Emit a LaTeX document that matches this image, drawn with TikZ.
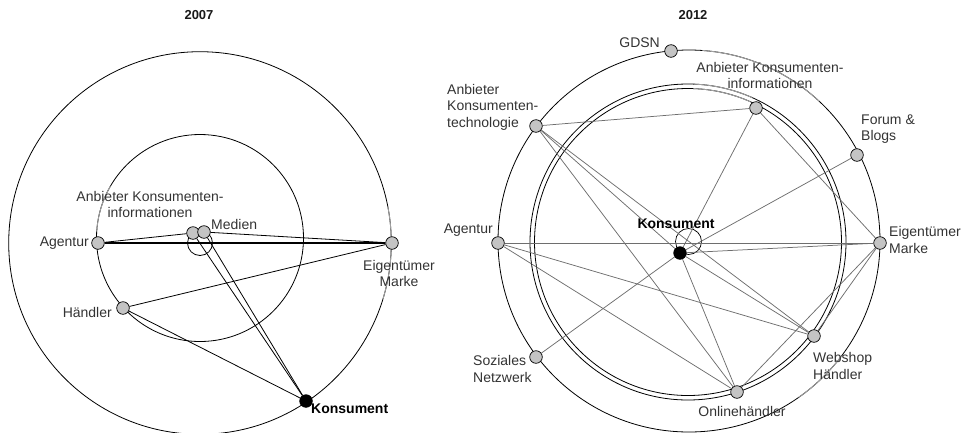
\documentclass[tikz,border=0pt]{standalone}
\usepackage{fontspec}
\setmainfont{Liberation Sans}
\definecolor{nodegray}{HTML}{C4C4C4}
\definecolor{edgegray}{HTML}{6E6E6E}
\definecolor{txt}{HTML}{333333}
\definecolor{faint}{HTML}{A0A0A0}
\begin{document}
\begin{tikzpicture}[x=1pt,y=-1pt,
  ring/.style={draw=black, line width=0.8pt},
  faintarc/.style={draw=faint, line width=0.9pt},
  nd/.style={circle, draw=black, fill=nodegray, line width=0.7pt, minimum size=12.6pt, inner sep=0pt},
  ndk/.style={nd, fill=black},
  edgeA/.style={draw=black, line width=0.8pt},
  edgeB/.style={draw=edgegray, line width=0.75pt},
  lbl/.style={font=\fontsize{14}{16.5}\selectfont, text=txt, inner sep=0pt},
  lblb/.style={font=\fontsize{14}{16.5}\selectfont\bfseries, text=black, inner sep=0pt},
  ttl/.style={font=\fontsize{13}{15}\selectfont\bfseries, text=black!90, inner sep=0pt}
]
\useasboundingbox (0,0) rectangle (965,432);

% ---------- titles ----------
\node[ttl] (t1) at (199,15) {2007};
\node[ttl] (t2) at (693,15) {2012};

% ---------- left panel rings ----------
\draw[ring] (200,243) circle[radius=191.3];
\draw[ring] (200,238) circle[radius=103.5];
\draw[faintarc] (200,243) ++(17:191.3) arc[start angle=17, end angle=-11, radius=191.3];
\draw[faintarc] (200,238) ++(-150:103.5) arc[start angle=-150, end angle=-176, radius=103.5];

% self loop left
\coordinate (L1) at (200,243);
\draw[edgeA] (L1) circle[radius=12.5];

% ---------- left panel nodes ----------
\node[nd] (AG1) at (98,243) {};
\node[nd] (AK1) at (193,233) {};
\node[nd] (ME1) at (204,232) {};
\node[nd] (EM1) at (392,243) {};
\node[nd] (HA1) at (123,308) {};
\node[ndk] (KO1) at (306,401) {};

% ---------- left panel edges ----------
\draw[edgeA, line width=1.8pt] (AG1) -- (EM1);
\draw[edgeA] (AG1) -- (AK1);
\draw[edgeA] (ME1) -- (EM1);
\draw[edgeA] (HA1) -- (EM1);
\draw[edgeA] (HA1) -- (KO1);
\draw[edgeA] (AK1) -- (KO1);
\draw[edgeA] (ME1) -- (KO1);

% ---------- left panel labels ----------
\node[lbl, anchor=east] (lAG1) at (89,243) {Agentur};
\node[lbl, align=center] (lAK1) at (150,204.5) {Anbieter Konsumenten-\\informationen};
\node[lbl, anchor=west] (lME1) at (211,224) {Medien};
\node[lbl, align=center] (lEM1) at (399,273.5) {Eigentümer\\Marke};
\node[lbl, anchor=east] (lHA1) at (112,312) {Händler};
\node[lblb, anchor=west] (lKO1) at (311,409) {Konsument};

% ---------- right panel rings ----------
\draw[ring] (689,241) circle[radius=191];
\draw[ring] (688,242) circle[radius=158];
\draw[ring] (688,242) circle[radius=153.5];
\draw[faintarc] (689,241) ++(-47:191) arc[start angle=-47, end angle=-86, radius=191];
\draw[faintarc] (689,241) ++(55:191) arc[start angle=55, end angle=37, radius=191];
\draw[faintarc] (688,242) ++(-66:158) arc[start angle=-66, end angle=-88, radius=158];
\draw[faintarc] (688,242) ++(-66:153.5) arc[start angle=-66, end angle=-88, radius=153.5];

% self loop right
\coordinate (L2) at (688.5,241.5);
\draw[draw=black, line width=0.7pt] (L2) circle[radius=13];

% ---------- right panel nodes ----------
\node[nd] (GD2) at (671,51) {};
\node[nd] (AKI2) at (756,108) {};
\node[nd] (AKT2) at (536,126) {};
\node[nd] (FB2) at (857,155) {};
\node[nd] (AG2) at (498,243) {};
\node[nd] (EM2) at (880,243) {};
\node[nd] (SN2) at (536,357) {};
\node[nd] (WH2) at (814,336) {};
\node[nd] (OH2) at (737,392) {};
\node[ndk] (KO2) at (680,253) {};

% ---------- right panel edges ----------
\draw[edgeB] (AKT2) -- (AKI2);
\draw[edgeB] (AKT2) -- (KO2);
\draw[edgeB] (AKT2) -- (WH2);
\draw[edgeB] (AKT2) -- (OH2);
\draw[edgeB] (AKI2) -- (KO2);
\draw[edgeB] (AKI2) -- (EM2);
\draw[edgeB] (FB2) -- (KO2);
\draw[edgeB] (AG2) -- (EM2);
\draw[edgeB] (AG2) -- (WH2);
\draw[edgeB] (AG2) -- (OH2);
\draw[edgeB] (EM2) -- (KO2);
\draw[edgeB] (EM2) -- (WH2);
\draw[edgeB] (EM2) -- (OH2);
\draw[edgeB] (KO2) -- (OH2);
\draw[edgeB] (KO2) -- (WH2);
\draw[edgeB] (KO2) -- (SN2);

% ---------- right panel labels ----------
\node[lbl, anchor=east] (lGD2) at (660,43) {GDSN};
\node[lbl, align=center] (lAKI2) at (770,75.5) {Anbieter Konsumenten-\\informationen};
\node[lbl, align=left, anchor=west] (lAKT2) at (447,107) {Anbieter\\Konsumenten-\\technologie};
\node[lbl, align=left, anchor=west] (lFB2) at (861,129) {Forum \&\\Blogs};
\node[lbl, anchor=east] (lAG2) at (493,230) {Agentur};
\node[lbl, align=left, anchor=west] (lEM2) at (889,240) {Eigentümer\\Marke};
\node[lblb] (lKO2) at (676,224) {Konsument};
\node[lbl, align=left, anchor=west] (lSN2) at (473,369) {Soziales\\Netzwerk};
\node[lbl, align=left, anchor=west] (lWH2) at (813,366) {Webshop\\Händler};
\node[lbl] (lOH2) at (742,411) {Onlinehändler};
\end{tikzpicture}
\end{document}
